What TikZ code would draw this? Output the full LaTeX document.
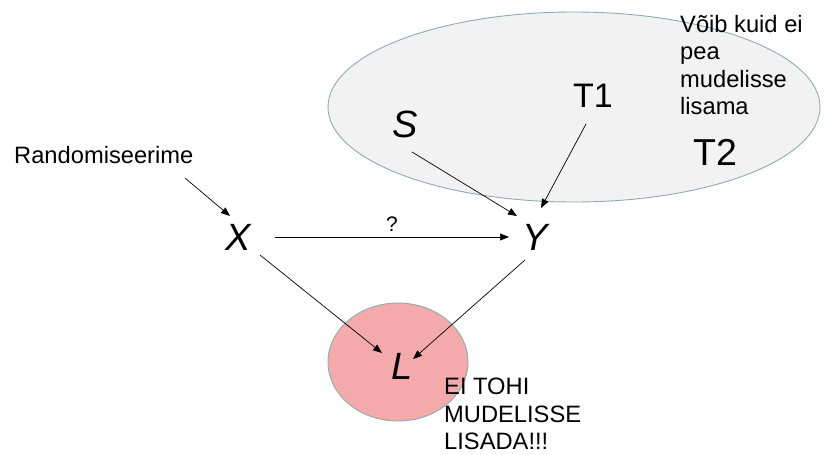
\documentclass[tikz,border=0pt]{standalone}
\usepackage{fontspec}
\setmainfont{Liberation Sans}
\usetikzlibrary{arrows.meta}
\definecolor{rimteal}{RGB}{140,172,178}
\definecolor{cloudgray}{RGB}{242,242,242}
\definecolor{forbidpink}{RGB}{244,170,170}
\begin{document}
\begin{tikzpicture}[x=1pt,y=-1pt,
  arr/.style={-{Triangle[length=9pt,width=7pt]}, line width=0.7pt, black},
  bigvar/.style={anchor=base, inner sep=0pt, font=\fontsize{38}{42}\selectfont\itshape},
  bigtag/.style={anchor=base, inner sep=0pt, font=\fontsize{36}{40}\selectfont},
  note/.style={inner sep=0pt, align=left, font=\fontsize{23.7}{27.5}\selectfont},
  blob/.style={draw=rimteal, line width=0.9pt}]
  \useasboundingbox (0,0) rectangle (825,455);

  % shaded regions
  \path[blob, fill=cloudgray] (574,107) ellipse [x radius=246, y radius=95];
  \path[blob, fill=forbidpink] (398,362) ellipse [x radius=70, y radius=59];

  % variables
  \node[bigvar] (X) at (238,250) {X};
  \node[bigvar] (Y) at (535,250) {Y};
  \node[bigvar] (S) at (405,137) {S};
  \node[bigvar] (L) at (402,379) {L};
  \node[bigtag, font=\fontsize{34}{38}\selectfont] (T1) at (593,107) {T1};
  \node[bigtag, font=\fontsize{37.5}{42}\selectfont] (T2) at (715,165) {T2};

  % annotations
  \node[note, anchor=base west] (rand) at (14,163) {Randomiseerime};
  \node[note, anchor=north west] (maybe) at (680,15) {Võib kuid ei\\pea\\mudelisse\\lisama};
  \node[note, anchor=north west] (forbid) at (444,378) {EI TOHI\\MUDELISSE\\LISADA!!!};

  % causal arrows
  \draw[arr] ([shift={(171,15)}]rand.base west) -- ([shift={(-8,-34)}]X.base);
  \draw[arr] ([shift={(37,-13)}]X.base) -- node[above=5pt, inner sep=0pt, font=\fontsize{21}{24}\selectfont] (q) {?} ([shift={(-26,-13)}]Y.base);
  \draw[arr] ([shift={(7,15)}]S.base) -- ([shift={(-18,-34)}]Y.base);
  \draw[arr] ([shift={(-7,17)}]T1.base) -- ([shift={(6,-42)}]Y.base);
  \draw[arr] ([shift={(22,5)}]X.base) -- ([shift={(-20,-26)}]L.base);
  \draw[arr] ([shift={(-10,10)}]Y.base) -- ([shift={(11,-20)}]L.base);
\end{tikzpicture}
\end{document}
